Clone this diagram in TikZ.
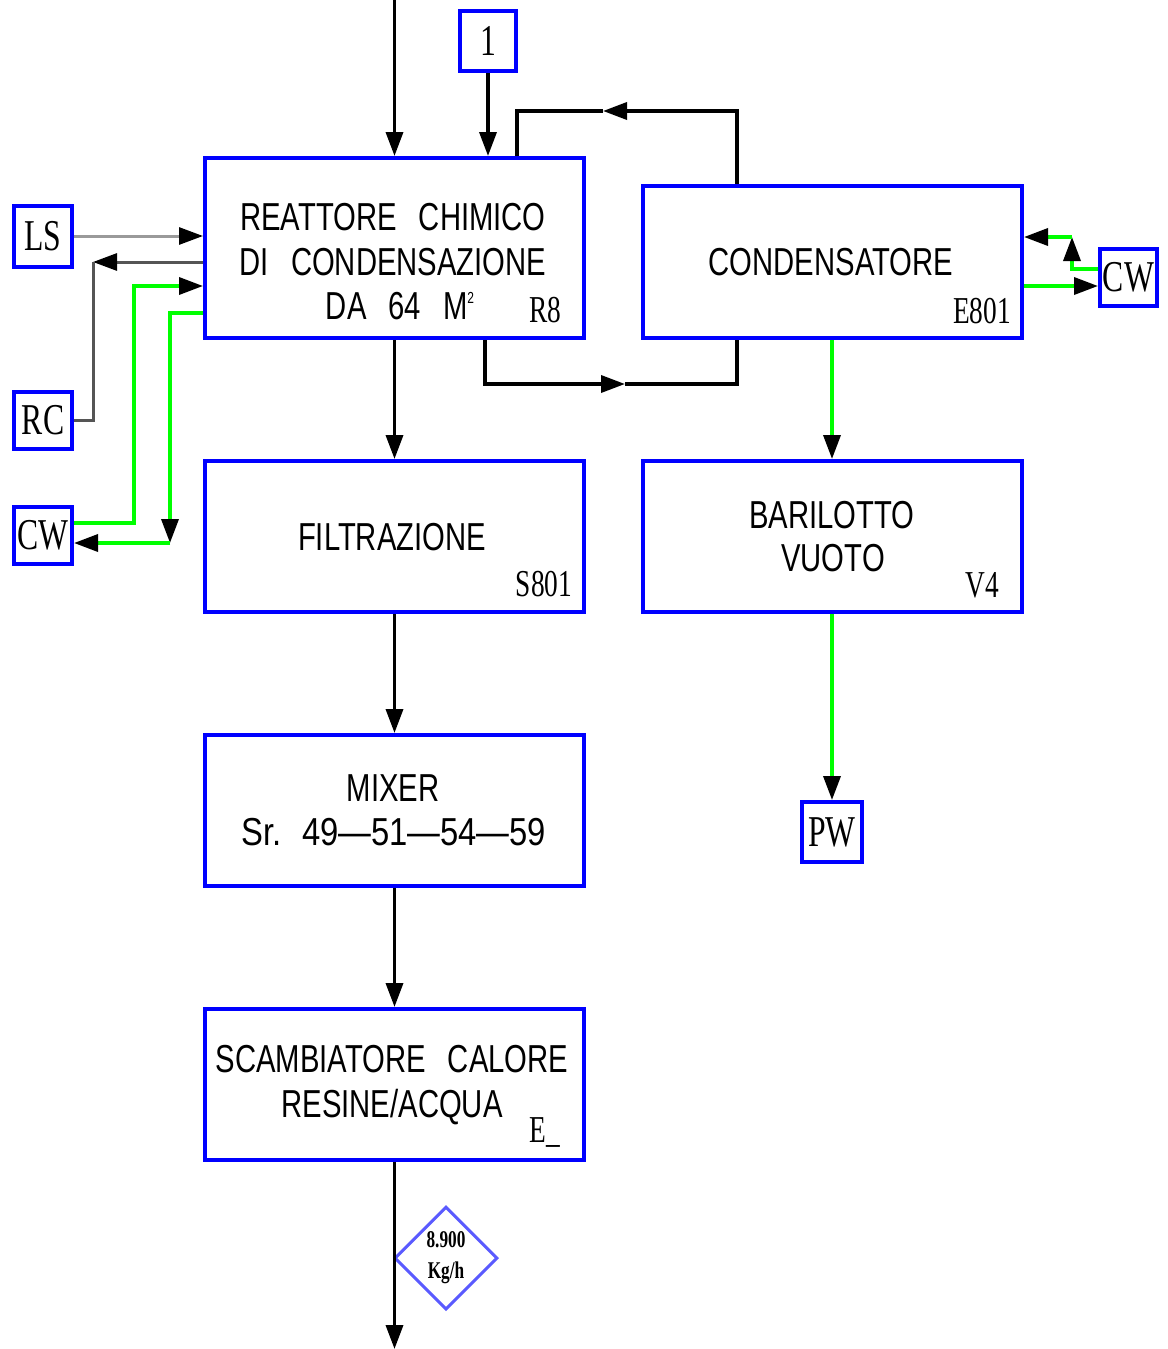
\documentclass[tikz,border=0pt]{standalone}
\usepackage{fontspec}
\usetikzlibrary{arrows.meta,shapes.geometric,calc}
\newfontfamily\cadfont{Liberation Sans}[FakeStretch=0.75]
\newfontfamily\labfont{Liberation Serif}[FakeStretch=0.72]
\definecolor{boxblue}{HTML}{0000FF}
\definecolor{cwgreen}{HTML}{00FF00}
\definecolor{diablue}{HTML}{5A5AFF}
\definecolor{lsgray}{HTML}{9A9A9A}
\definecolor{rcgray}{HTML}{555555}
\begin{document}
\begin{tikzpicture}[x=1pt,y=-1pt,
  blk/.style={draw=boxblue,line width=4pt,rectangle,minimum width=379pt,inner sep=0pt},
  tag/.style={draw=boxblue,line width=4pt,rectangle,inner sep=0pt,font=\labfont\fontsize{44}{48}\selectfont},
  txt/.style={font=\cadfont\fontsize{39}{44}\selectfont,inner sep=0pt},
  num/.style={font=\labfont\fontsize{38}{42}\selectfont,inner sep=0pt},
  ln/.style={line width=3.5pt,black},
  gl/.style={line width=3.5pt,cwgreen},
  arr/.style={-{Triangle[length=24pt,width=17pt,color=black]}}]
\useasboundingbox (0,0) rectangle (1167,1349);
\fill[white] (0,0) rectangle (1167,1349);

% main blocks
\node[blk,minimum height=180pt] (reactor) at (394.5,248) {};
\node[blk,minimum height=152pt] (cond) at (832.5,262) {};
\node[blk,minimum height=151pt] (filt) at (394.5,536.5) {};
\node[blk,minimum height=151pt] (bar) at (832.5,536.5) {};
\node[blk,minimum height=151pt] (mixer) at (394.5,810.5) {};
\node[blk,minimum height=151pt] (scamb) at (394.5,1084.5) {};

% small tags
\node[tag,minimum width=56pt,minimum height=60pt] (b1) at (488,41) {1};
\node[tag,minimum width=58pt,minimum height=61pt] (LS) at (43,236) {LS};
\node[tag,minimum width=58pt,minimum height=57pt] (RC) at (43,420.5) {RC};
\node[tag,minimum width=58pt,minimum height=57pt] (CWL) at (43,535.5) {CW};
\node[tag,minimum width=57pt,minimum height=57pt] (CWR) at (1128.5,277.5) {CW};
\node[tag,minimum width=60pt,minimum height=60pt] (PW) at (832,832) {PW};

% texts in blocks
\node[txt] (t1) at (393,217) {REATTORE\hspace{22pt}CHIMICO};
\node[txt] (t2) at (393,262) {DI\hspace{22pt}CONDENSAZIONE};
\node[txt] (t3) at (400,306) {DA\hspace{22pt}64\hspace{22pt}M\raisebox{16pt}{\fontsize{16}{16}\selectfont 2}};
\node[num] (t4) at (545,310) {R8};
\node[txt] (t5) at (831,262) {CONDENSATORE};
\node[num] (t6) at (982,311) {E801};
\node[txt] (t7) at (392,537) {FILTRAZIONE};
\node[num] (t8) at (544,584) {S801};
\node[txt] (t9) at (832,515) {BARILOTTO};
\node[txt] (t10) at (833,558) {VUOTO};
\node[num] (t11) at (982,585) {V4};
\node[txt] (t12) at (393,788) {MIXER};
\node[txt] (t13) at (394,832) {\scalebox{1.12}[1]{Sr.\hspace{18pt}49—51—54—59}};
\node[txt] (t14) at (392,1059) {SCAMBIATORE\hspace{22pt}CALORE};
\node[txt] (t15) at (392,1107) {RESINE/ACQUA};
\node[num] (t16) at (545,1132) {E\_};

% diamond
\node[shape=diamond,draw=diablue,line width=3pt,aspect=1,minimum size=103pt,inner sep=0pt,
      align=center,font=\labfont\bfseries\fontsize{24}{31}\selectfont] (flow) at (446,1258) {8.900\\Kg/h};

% coordinates
\coordinate (topin) at (394.5,0);
\coordinate (tl) at (603,111);
\coordinate (bl) at (625,384);
\coordinate (out) at (394.5,1349);
\coordinate (rcc) at (93,262);
\coordinate (s1) at (134,286);
\coordinate (r1) at (170,313);
\coordinate (r2) at (170,543);
\coordinate (q1) at (1072,269);
\coordinate (q2) at (1072,237);
\coordinate (q3) at (1060,286);
\coordinate (gx) at (832,0);

% black process lines
\draw[ln,arr] (topin) -- (reactor.north);
\draw[ln,arr] (b1.south) -- (b1.south |- reactor.north);
\draw[ln,arr] ([xshift=96pt]cond.north west) |- (tl);
\draw[ln] (tl) -| ([xshift=314pt]reactor.north west);
\draw[ln,arr] ([xshift=282pt]reactor.south west) |- (bl);
\draw[ln] (bl) -| ([xshift=96pt]cond.south west);
\draw[ln,arr] (reactor.south) -- (filt.north);
\draw[ln,arr] (filt.south) -- (mixer.north);
\draw[ln,arr] (mixer.south) -- (scamb.north);
\draw[ln,arr] (scamb.south) -- (out);

% green lines right column
\draw[gl,arr] (gx |- cond.south) -- (gx |- bar.north);
\draw[gl,arr] (gx |- bar.south) -- (PW.north);

% left utilities
\draw[line width=3pt,lsgray,arr] (LS.east) -- (LS.east -| reactor.west);
\draw[line width=3pt,rcgray,arr] (rcc -| reactor.west) -- (rcc);
\draw[line width=3pt,rcgray] (rcc) |- (RC.east);
\draw[gl,arr] ([yshift=12.5pt]CWL.east) -| (s1) -- (s1 -| reactor.west);
\draw[gl,arr] (r1 -| reactor.west) -- (r1) -- (r2);
\draw[gl,arr] (r2) -- (r2 -| CWL.east);

% right utilities
\draw[gl,arr] (q1 -| CWR.west) -- (q1) -- (q2);
\draw[gl,arr] (q2) -- (q2 -| cond.east);
\draw[gl,arr] (q3 -| cond.east) -- (q3 -| CWR.west);
\end{tikzpicture}
\end{document}
